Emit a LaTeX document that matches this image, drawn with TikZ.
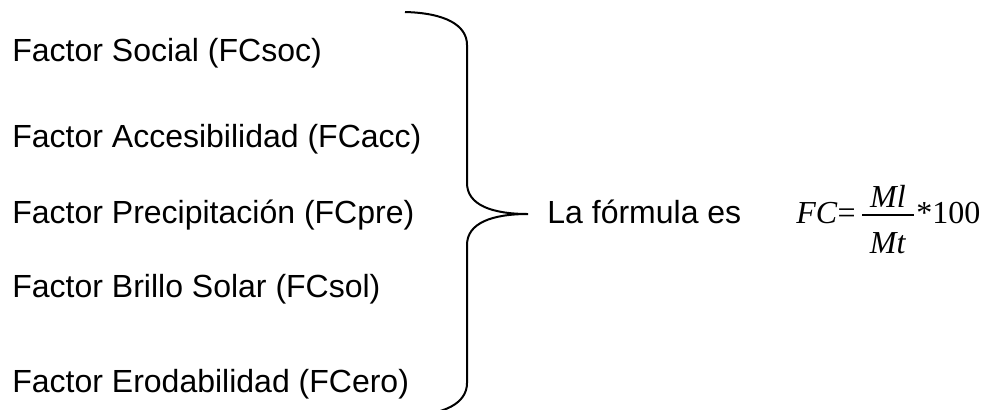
\documentclass[tikz,border=0pt]{standalone}
\usepackage{fontspec}
\setmainfont{Liberation Sans}
\newfontfamily\formulafont{Liberation Serif}

\begin{document}
\begin{tikzpicture}[x=0.5pt,y=-0.5pt,
  factor/.style={anchor=base west, inner sep=0pt, font=\fontsize{16}{19}\selectfont},
  formula/.style={anchor=base west, inner sep=0pt, font=\fontsize{16}{19}\selectfont\formulafont}]
\useasboundingbox (0,0) rectangle (984,409);
% the five factors
\node[factor] (soc) at (12,61) {Factor Social (FCsoc)};
\node[factor] (acc) at (12,147) {Factor Accesibilidad (FCacc)};
\node[factor] (pre) at (12,223) {Factor Precipitación (FCpre)};
\node[factor] (sol) at (12,297) {Factor Brillo Solar (FCsol)};
\node[factor] (ero) at (12,392) {Factor Erodabilidad (FCero)};
% brace
\coordinate (top) at (405,12);
\coordinate (tip) at (528,214);
\coordinate (bot) at (405,416);
\draw[line width=1pt] (top) .. controls (445,13) and (467,25) .. (467,45) -- (467,183)
  .. controls (467,205) and (492,214) .. (tip)
  .. controls (492,214) and (467,223) .. (467,245) -- (467,383)
  .. controls (467,403) and (445,415) .. (bot);
% formula
\node[factor] (txt) at (547,223) {La fórmula es};
\node[formula] (fc) at (796,223) {\textit{FC}=};
\coordinate (barl) at (862,215);
\coordinate (barr) at (914,215);
\draw[line width=0.75pt] (barl) -- (barr);
\node[formula, anchor=base] (ml) at (888,207) {\textit{Ml}};
\node[formula, anchor=base] (mt) at (888,253) {\textit{Mt}};
\node[formula] (cien) at (916,223) {*100};
\end{tikzpicture}
\end{document}
